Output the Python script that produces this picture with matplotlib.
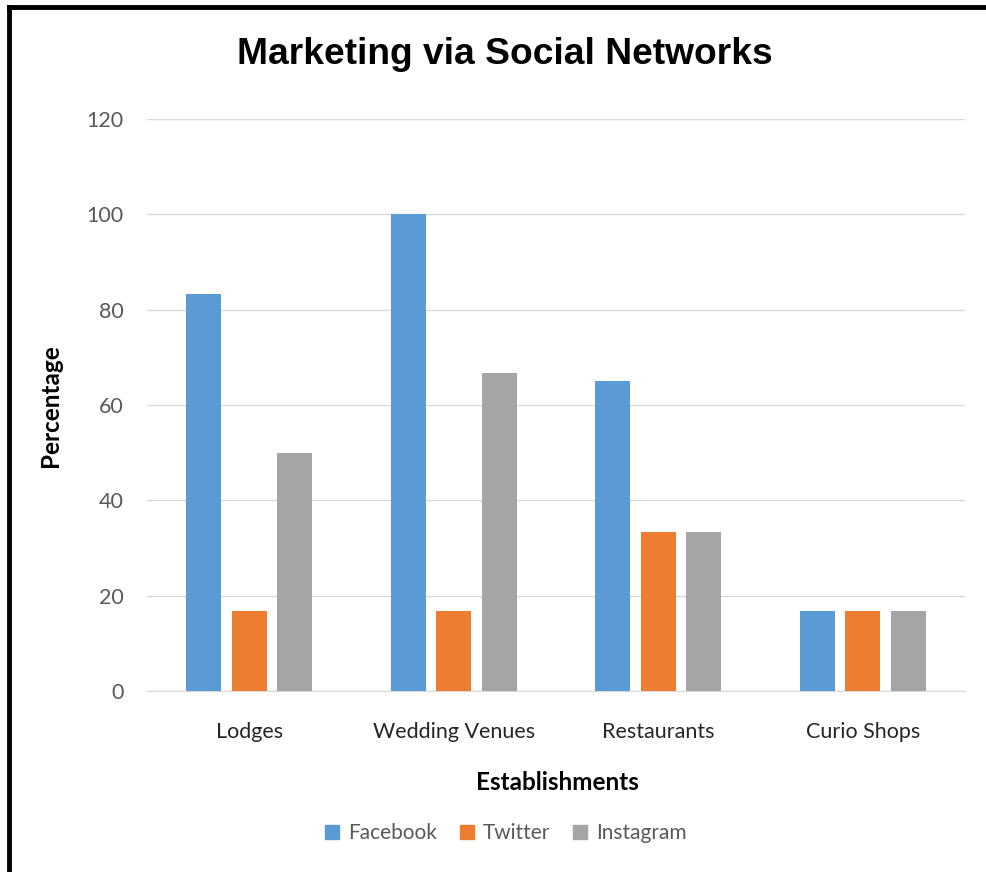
import numpy as np
import matplotlib
matplotlib.use("Agg")
import matplotlib.pyplot as plt
from matplotlib.lines import Line2D

# данные
categories = ["Lodges", "Wedding Venues", "Restaurants", "Curio Shops"]
facebook = [83.3, 100, 65, 16.7]
twitter = [16.7, 16.7, 33.3, 16.7]
instagram = [50, 66.7, 33.3, 16.7]
y_ticks = [0, 20, 40, 60, 80, 100, 120]

series = [("Facebook", facebook, "#5b9bd5"),
          ("Twitter", twitter, "#ed7d31"),
          ("Instagram", instagram, "#a5a5a5")]

W, H = 986, 872
fig = plt.figure(figsize=(W / 100, H / 100), dpi=100)
ax = fig.add_axes([147 / W, (H - 691) / H, (965 - 147) / W, (691 - 119) / H])

x = np.arange(len(categories))
bar_w = 0.171
step = 0.2225
for i, (name, vals, col) in enumerate(series):
    ax.bar(x + (i - 1) * step, vals, width=bar_w, color=col, label=name, zorder=3)

ax.set_xlim(-0.5, len(categories) - 0.5)
ax.set_ylim(0, 120)
ax.set_yticks(y_ticks)
ax.set_xticks(x)
ax.set_xticklabels(categories)
ax.grid(axis="y", color="#d9d9d9", linewidth=1, zorder=0)
for s in ["top", "right", "left"]:
    ax.spines[s].set_visible(False)
ax.spines["bottom"].set_color("#d9d9d9")
ax.tick_params(axis="both", length=0, labelsize=15.5, labelcolor="#595959")
ax.tick_params(axis="y", pad=17)
ax.tick_params(axis="x", pad=22.5)
for lab in ax.get_xticklabels() + ax.get_yticklabels():
    lab.set_family("Lato")
for lab in ax.get_xticklabels():
    lab.set_color("#262626")

# подписи осей
fig.text(557 / W, 1 - 782 / H, "Establishments", ha="center", va="center",
         fontsize=17.5, fontweight="bold", family="Lato")
fig.text(50 / W, 1 - 406 / H, "Percentage", ha="center", va="center", rotation=90,
         fontsize=17.5, fontweight="bold", family="Lato")

fig.text(505 / W, 1 - 54 / H, "Marketing via Social Networks", ha="center", va="center",
         fontsize=26.7, fontweight="bold", family="Liberation Sans")

handles = [plt.Rectangle((0, 0), 1, 1, color=c) for _, _, c in series]
fig.legend(handles, [n for n, _, _ in series], loc="center", bbox_to_anchor=(506 / W, 1 - 833 / H),
           ncol=3, frameon=False, prop={"family": "Lato", "size": 15}, labelcolor="#595959",
           handlelength=0.65, handleheight=0.65, handletextpad=0.45, columnspacing=1.1)

# рамка слева и сверху
fig.add_artist(Line2D([9 / W, 9 / W], [0, 1 - 7 / H], color="black", linewidth=3.5))
fig.add_artist(Line2D([9 / W, 1], [1 - 7 / H, 1 - 7 / H], color="black", linewidth=3.5))

fig.savefig("out.png", dpi=100)
